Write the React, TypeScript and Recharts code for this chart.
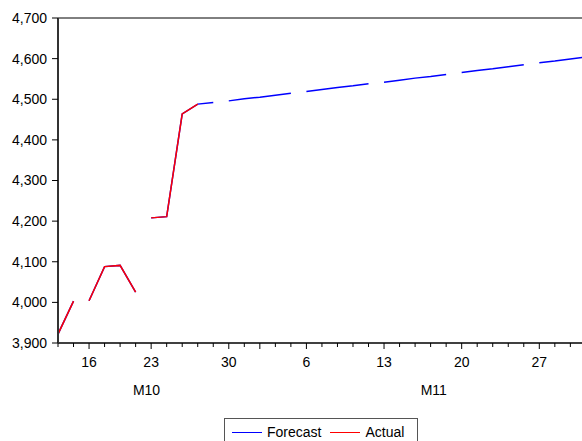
import { LineChart, Line, XAxis, YAxis, ReferenceLine } from "recharts";

const FONT = "'Liberation Sans', Arial, sans-serif";

// observation dates (MM-DD), business days
const dates = [
  "10-14", "10-15", "10-16", "10-17", "10-20", "10-21", "10-23", "10-24", "10-27", "10-28",
  "10-29", "10-30", "10-31", "11-03", "11-04", "11-05", "11-06", "11-07", "11-10", "11-11",
  "11-12", "11-13", "11-14", "11-17", "11-18", "11-19", "11-20", "11-21", "11-24", "11-25",
  "11-26", "11-27", "11-28", "12-01", "12-02",
];

const actual = [3922, 4003, 4004, 4088, 4091, 4025, 4208, 4211, 4464, 4488];

const forecast = [
  3922, 4003, 4004, 4088, 4091, 4025, 4208, 4211, 4464, 4488,
  4492, 4496, 4501, 4505, 4510, 4515, 4519, 4524, 4529, 4533,
  4538, 4542, 4547, 4552, 4556, 4561, 4566, 4571, 4575, 4580,
  4585, 4590, 4594, 4599, 4604,
];

// labelled dates; the lines also break just before each of these
const labelledDates = ["10-16", "10-23", "10-30", "11-06", "11-13", "11-20", "11-27"];
const monthStarts = ["11-03"];

const yTicks = [3900, 4000, 4100, 4200, 4300, 4400, 4500, 4600, 4700];
const monthLabels = ["M10", "M11"];
const monthTickAt = [5.7, 24.2];

const rows: { i: number; actual: number | null; forecast: number | null }[] = [];
dates.forEach((d, i) => {
  if (labelledDates.includes(d)) rows.push({ i: i - 0.5, actual: null, forecast: null });
  rows.push({ i, actual: actual[i] ?? null, forecast: forecast[i] ?? null });
});

const obsTicks = dates.map((_, i) => i).filter((i) => i <= 33);

function DateTick({ x, y, payload }: any) {
  const d = dates[payload.value];
  const labelled = labelledDates.includes(d);
  const major = labelled || monthStarts.includes(d);
  return (
    <g>
      <line x1={x} y1={y} x2={x} y2={y + (major ? 6 : 4)} stroke="#000" strokeWidth={1} />
      {labelled && (
        <text x={x} y={y + 24} textAnchor="middle" fontSize={14} fontFamily={FONT} fill="#000">
          {String(Number(d.slice(3)))}
        </text>
      )}
    </g>
  );
}

function MonthTick({ x, y, index }: any) {
  return (
    <text x={x} y={y + 22} textAnchor="middle" fontSize={14} fontFamily={FONT} fill="#000">
      {monthLabels[index]}
    </text>
  );
}

export default function App() {
  return (
    <div
      style={{
        position: "absolute",
        left: 0,
        top: 0,
        width: 582,
        height: 441,
        overflow: "hidden",
        background: "#fff",
        fontFamily: FONT,
      }}
    >
      <LineChart width={582} height={441} data={rows} margin={{ top: 18, right: 0, left: 0, bottom: 38 }}>
        <XAxis
          dataKey="i"
          type="number"
          domain={[0, 33.75]}
          allowDataOverflow
          ticks={obsTicks}
          interval={0}
          height={30}
          tickSize={0}
          tickMargin={0}
          tickLine={false}
          axisLine={{ stroke: "#000", strokeWidth: 1.5 }}
          tick={<DateTick />}
        />
        <XAxis
          xAxisId="month"
          dataKey="i"
          type="number"
          domain={[0, 33.75]}
          allowDataOverflow
          ticks={monthTickAt}
          interval={0}
          height={30}
          tickSize={0}
          tickMargin={0}
          tickLine={false}
          axisLine={false}
          tick={<MonthTick />}
        />
        <YAxis
          type="number"
          domain={[3900, 4700]}
          ticks={yTicks}
          interval={0}
          width={58}
          tickSize={6}
          tickMargin={5}
          axisLine={{ stroke: "#333", strokeWidth: 2 }}
          tickLine={{ stroke: "#000" }}
          tick={{ fontSize: 14, fontFamily: FONT, fill: "#000" }}
          tickFormatter={(v: number) => v.toLocaleString("en-US")}
        />
        <ReferenceLine y={4700} stroke="#000" strokeWidth={1} />
        <Line
          dataKey="forecast"
          stroke="#0000ff"
          strokeWidth={1.5}
          dot={false}
          activeDot={false}
          isAnimationActive={false}
        />
        <Line
          dataKey="actual"
          stroke="#ff0000"
          strokeWidth={1.5}
          dot={false}
          activeDot={false}
          isAnimationActive={false}
        />
      </LineChart>
      <div
        style={{
          position: "absolute",
          left: 224,
          top: 418,
          width: 194,
          height: 30,
          border: "1px solid #555",
          boxSizing: "border-box",
          display: "flex",
          alignItems: "flex-start",
          paddingTop: 5,
          paddingLeft: 7,
          fontSize: 14,
          color: "#000",
          lineHeight: "16px",
        }}
      >
        <span style={{ width: 30, height: 0, borderTop: "1px solid #0000ff", marginTop: 8, marginRight: 5 }} />
        <span>Forecast</span>
        <span style={{ width: 30, height: 0, borderTop: "1px solid #ff0000", marginTop: 8, marginLeft: 9, marginRight: 5 }} />
        <span>Actual</span>
      </div>
    </div>
  );
}
